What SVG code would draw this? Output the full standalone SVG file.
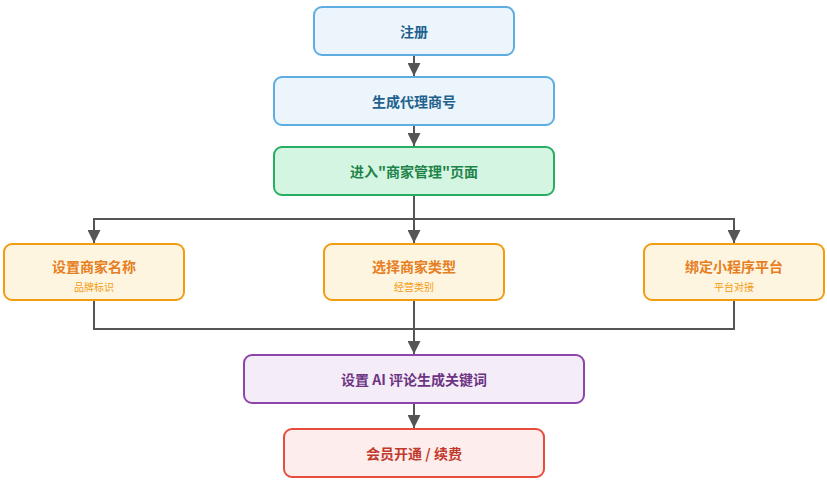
<svg xmlns="http://www.w3.org/2000/svg" width="827" height="483" viewBox="0 0 827 483">
<style>
text{font-family:"Noto Sans CJK SC","Noto Sans",sans-serif;text-anchor:middle;dominant-baseline:central}
.t{font-size:14px;font-weight:bold}
.s{font-size:10px}
rect{stroke-width:2}
.blue rect{fill:#ebf5fb;stroke:#5dade2}.blue text{fill:#1f618d}
.green rect{fill:#d5f5e3;stroke:#27ae60}.green text{fill:#1e8449}
.orange rect{fill:#fef5e0;stroke:#f39c12}.orange .t{fill:#e67e22}.orange .s{fill:#f39c12}
.purple rect{fill:#f4ecf7;stroke:#8e44ad}.purple text{fill:#6c3483}
.red rect{fill:#fdedec;stroke:#e74c3c}.red text{fill:#c0392b}
.c{fill:none;stroke:#555;stroke-width:2}
</style>
<defs>
<marker id="ah" viewBox="0 0 13 13" refX="13" refY="6.5" markerWidth="13" markerHeight="13" markerUnits="userSpaceOnUse" orient="auto-start-reverse">
<path d="M0,0 L13,6.5 L0,13 Z" fill="#555"/>
</marker>
</defs>
<g id="connectors">
<path class="c" d="M414,55 V76" marker-end="url(#ah)"/>
<path class="c" d="M414,125 V146" marker-end="url(#ah)"/>
<path class="c" d="M414,195 V243"  marker-end="url(#ah)"/>
<path class="c" d="M94,243 V219 H734 V243" marker-start="url(#ah)" marker-end="url(#ah)"/>
<path class="c" d="M94,300 V329 H734 V300"/>
<path class="c" d="M414,300 V354" marker-end="url(#ah)"/>
<path class="c" d="M414,403 V428" marker-end="url(#ah)"/>
</g>
<g id="n1" class="blue"><rect x="314" y="7" width="200" height="48" rx="8"/><text class="t" x="414" y="31">注册</text></g>
<g id="n2" class="blue"><rect x="274" y="77" width="280" height="48" rx="8"/><text class="t" x="414" y="101">生成代理商号</text></g>
<g id="n3" class="green"><rect x="274" y="147" width="280" height="48" rx="8"/><text class="t" x="414" y="171">进入"商家管理"页面</text></g>
<g id="n4" class="orange"><rect x="4" y="244" width="180" height="56" rx="8"/><text class="t" x="94" y="266">设置商家名称</text><text class="s" x="94" y="286">品牌标识</text></g>
<g id="n5" class="orange"><rect x="324" y="244" width="180" height="56" rx="8"/><text class="t" x="414" y="266">选择商家类型</text><text class="s" x="414" y="286">经营类别</text></g>
<g id="n6" class="orange"><rect x="644" y="244" width="180" height="56" rx="8"/><text class="t" x="734" y="266">绑定小程序平台</text><text class="s" x="734" y="286">平台对接</text></g>
<g id="n7" class="purple"><rect x="244" y="355" width="340" height="48" rx="8"/><text class="t" x="414" y="379">设置 AI 评论生成关键词</text></g>
<g id="n8" class="red"><rect x="284" y="429" width="260" height="48" rx="8"/><text class="t" x="414" y="453">会员开通 / 续费</text></g>
</svg>
